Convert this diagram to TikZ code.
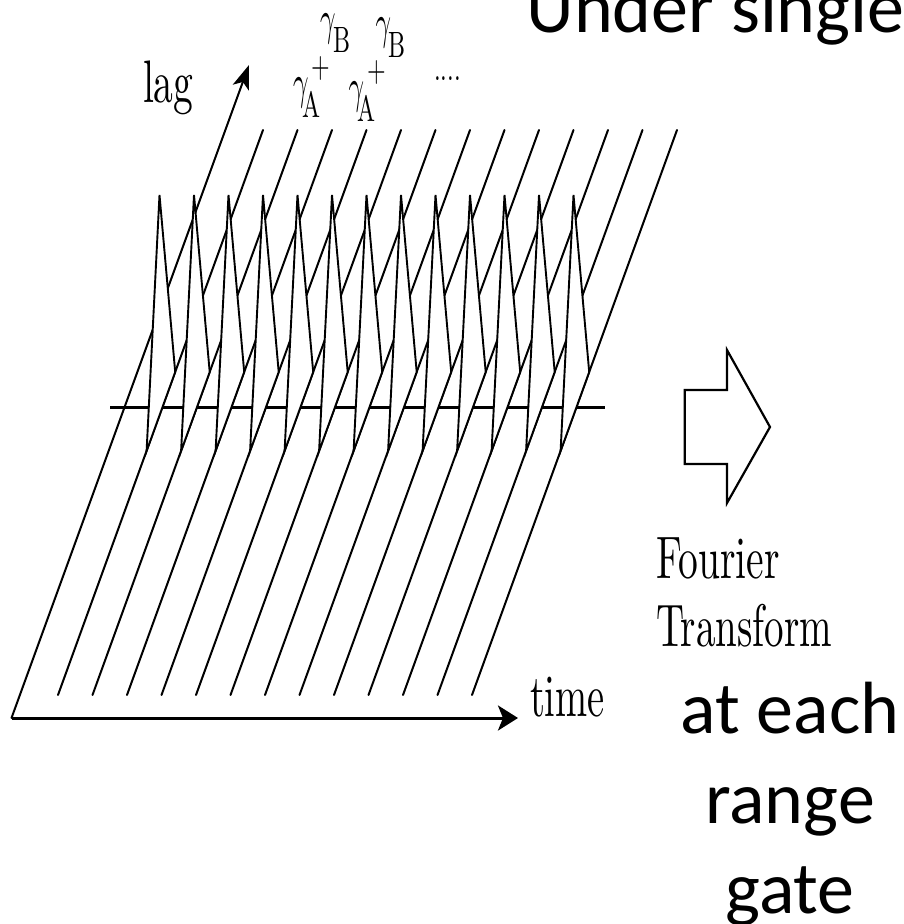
\documentclass[tikz,border=0pt]{standalone}
\usepackage{fontspec}
\usepackage{graphicx}
\usetikzlibrary{arrows.meta}
\newfontfamily\calib{Carlito}
\newcommand{\stretched}[3]{\scalebox{#1}[#2]{#3}}
\tikzset{
  lbl/.style={inner sep=0pt,outer sep=0pt,anchor=base west,text=black},
  big/.style={lbl,anchor=base,font=\calib\fontsize{74}{80}\selectfont},
  thin line/.style={line width=2pt,line cap=round,draw=black},
  thick line/.style={line width=3pt,draw=black},
  spike/.style={line width=1.9pt,line join=miter,draw=black,fill=white},
  lagtip/.style={-{Stealth[length=24pt,width=17pt,inset=6pt]}},
  timetip/.style={-{Stealth[length=20pt,width=25pt,inset=5pt]}}
}
\begin{document}
\begin{tikzpicture}[x=1pt,y=-1pt]
\useasboundingbox (0,0) rectangle (903,924);
\clip (0,0) rectangle (903,924);
\fill[white] (0,0) rectangle (903,924);
% axes origin and ends
\coordinate (origin) at (11.5,718);
\coordinate (lagend) at (249,65);
\coordinate (timeend) at (518,718);
\draw[thin line,lagtip] (origin) -- (lagend);
% lag lines
\foreach \k in {0,...,12}{
  \coordinate (b\k) at ({58+34.5*\k},695);
  \coordinate (t\k) at ({263+34.5*\k},130);
  \draw[thin line] (b\k) -- (t\k);
}
% zero lag line
\coordinate (hl) at (110,407);
\coordinate (hr) at (605,407);
\draw[thick line] (hl) -- (hr);
% spikes
\foreach \k in {0,...,12}{
  \draw[spike] ({146.6+34.5*\k},451) -- ({159.5+34.5*\k},195) -- ({175.2+34.5*\k},372) -- cycle;
}
\draw[thick line,timetip] (origin) -- (timeend);
% block arrow
\draw[line width=2.2pt,line join=miter,draw=black,fill=white]
  (684.7,390) -- (727,390) -- (727,350) -- (770,427) -- (727,503) -- (727,464) -- (684.7,464) -- cycle;
% texts
\node[lbl] (lag) at (143,102) {\stretched{3.95}{6.0}{lag}};
\node[lbl] (time) at (530,716) {\stretched{3.85}{6.0}{time}};
\node[lbl] (fourier) at (656,578) {\stretched{3.95}{6.0}{Fourier}};
\node[lbl] (transform) at (656,646) {\stretched{3.9}{6.0}{Transform}};
% gamma labels
\node[lbl] (g1) at (293,98) {\stretched{2.7}{4.8}{$\gamma$}};
\node[lbl] (a1) at (302,117) {\stretched{2.4}{3.66}{A}};
\node[lbl] (g2) at (320,34) {\stretched{2.7}{4.8}{$\gamma$}};
\node[lbl] (b1) at (333,52) {\stretched{2.4}{3.66}{B}};
\node[lbl] (p1) at (311,77) {\stretched{2.4}{3.6}{+}};
\node[lbl] (g3) at (348.5,102) {\stretched{2.7}{4.8}{$\gamma$}};
\node[lbl] (a2) at (357.5,121) {\stretched{2.4}{3.66}{A}};
\node[lbl] (g4) at (375.5,38) {\stretched{2.7}{4.8}{$\gamma$}};
\node[lbl] (b2) at (388.5,57) {\stretched{2.4}{3.66}{B}};
\node[lbl] (p2) at (367,81) {\stretched{2.4}{3.6}{+}};
\node[lbl] (dots) at (434,80) {\stretched{2.4}{3.6}{....}};
% large labels
\node[lbl,font=\calib\fontsize{74}{80}\selectfont] (under) at (526.5,32) {Under single};
\node[big] (ateach) at (790,733) {at each};
\node[big] (range) at (790,823) {range};
\node[big] (gate) at (790,913) {gate};
\end{tikzpicture}
\end{document}
